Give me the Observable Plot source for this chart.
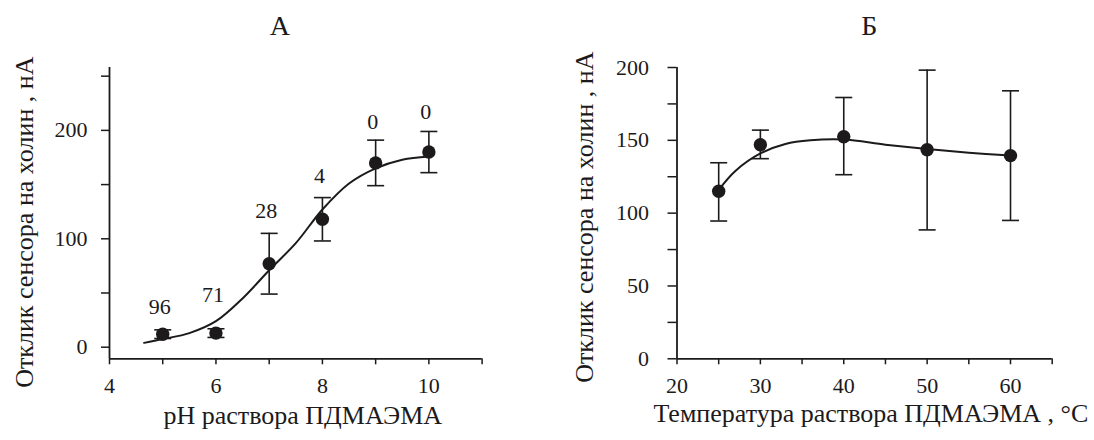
<!DOCTYPE html>
<html>
<head>
<meta charset="utf-8">
<script src="https://cdn.jsdelivr.net/npm/d3@7"></script>
<script src="https://cdn.jsdelivr.net/npm/@observablehq/plot@0.6"></script>
<style>
  body { margin: 0; background: #fff; }
  #row { display: flex; width: 1094px; height: 440px; }
  #row svg { display: block; }
  #row svg, #row svg text { font-family: "Liberation Serif", "Times New Roman", serif !important; }
</style>
</head>
<body>
<div id="row"></div>
<script>
// ---------- Panel А : pH ----------
const phValues    = [5, 6, 7, 8, 9, 10];
const phResponse  = [12, 13, 77, 118, 170, 180];
const phError     = [4, 4, 28, 20, 21, 19];
const phLabels    = ["96", "71", "28", "4", "0", "0"];
const phLabelY    = [37, 48, 126, 158, 208, 217];
const phFitX      = [4.65, 5, 5.5, 6, 6.5, 7, 7.5, 8, 8.5, 9, 9.5, 10];
const phFitY      = [4, 7.5, 13, 24, 45, 71, 96, 127, 151, 165, 173, 176];
const phTicksX    = [4, 5, 6, 7, 8, 9, 10, 11];
const phTickLabelsX = [4, 6, 8, 10];
const phTicksY    = [0, 50, 100, 150, 200, 250];
const phTickLabelsY = [0, 100, 200];
const titleA = "А";
const xLabelA = "pH раствора ПДМАЭМА";
const yLabel = "Отклик сенсора на холин , нА";

// ---------- Panel Б : temperature ----------
const tempValues   = [25, 30, 40, 50, 60];
const tempResponse = [115, 147, 152.5, 143.5, 139.5];
const tempLow      = [94.6, 137.4, 126.4, 88.5, 95];
const tempHigh     = [134.6, 157, 179.4, 198.2, 184];
const tempFitX     = [25, 27, 30, 33, 36, 40, 45, 50, 55, 60];
const tempFitY     = [116, 129, 141, 147.5, 150, 150.5, 147, 144, 141.5, 139.5];
const tempTicksX   = [20, 25, 30, 35, 40, 45, 50, 55, 60, 65];
const tempTickLabelsX = [20, 30, 40, 50, 60];
const tempTicksY   = [0, 25, 50, 75, 100, 125, 150, 175, 200];
const tempTickLabelsY = [0, 50, 100, 150, 200];
const titleB = "Б";
const xLabelB = "Температура раствора ПДМАЭМА , °C";

const ink = "#1c1a1b";
const font = "Liberation Serif";
const capSymbol = { draw(ctx) { ctx.moveTo(-8.5, 0); ctx.lineTo(8.5, 0); } };

// tables built from arrays
const phData = phValues.map((x, i) => ({
  x, y: phResponse[i], lo: phResponse[i] - phError[i], hi: phResponse[i] + phError[i],
  label: phLabels[i], ly: phLabelY[i]
}));
const phFit = phFitX.map((x, i) => ({ x, y: phFitY[i] }));
const tempData = tempValues.map((x, i) => ({ x, y: tempResponse[i], lo: tempLow[i], hi: tempHigh[i] }));
const tempFit = tempFitX.map((x, i) => ({ x, y: tempFitY[i] }));

const yMinA = -10.7;

const plotA = Plot.plot({
  width: 547, height: 440,
  marginLeft: 109, marginRight: 65.4, marginTop: 67, marginBottom: 81.7,
  style: { fontFamily: font, fontSize: "22px", color: ink, background: "#fff", overflow: "visible" },
  x: { domain: [4, 11] },
  y: { domain: [yMinA, 258] },
  marks: [
    Plot.axisX(phTicksX, { tickSize: 6, tickPadding: 13, strokeWidth: 1.5, fontSize: 22, fontFamily: font, label: null,
      tickFormat: d => phTickLabelsX.includes(d) ? String(d) : "" }),
    Plot.axisY(phTicksY, { tickSize: 8, tickPadding: 14, strokeWidth: 1.5, fontSize: 22, fontFamily: font, label: null,
      tickFormat: d => phTickLabelsY.includes(d) ? String(d) : "" }),
    Plot.ruleX([4], { stroke: ink, strokeWidth: 1.8 }),
    Plot.ruleY([yMinA], { stroke: ink, strokeWidth: 1.8 }),
    Plot.line(phFit, { x: "x", y: "y", curve: "catmull-rom", stroke: ink, strokeWidth: 2 }),
    Plot.ruleX(phData, { x: "x", y1: "lo", y2: "hi", stroke: ink, strokeWidth: 1.6 }),
    Plot.dot(phData, { x: "x", y: "hi", symbol: capSymbol, stroke: ink, strokeWidth: 1.6, fill: "none" }),
    Plot.dot(phData, { x: "x", y: "lo", symbol: capSymbol, stroke: ink, strokeWidth: 1.6, fill: "none" }),
    Plot.dot(phData, { x: "x", y: "y", r: 6.7, fill: ink, stroke: "none" }),
    Plot.text(phData, { x: "x", y: "ly", text: "label", fontSize: 22, fontFamily: font, fill: ink, lineAnchor: "middle", dx: -3 }),
    Plot.text([titleA], { frameAnchor: "top", textAnchor: "middle", dx: -16, dy: -41, fontSize: 28, fontFamily: font, fill: ink, lineAnchor: "middle" }),
    Plot.text([xLabelA], { frameAnchor: "bottom", textAnchor: "middle", dx: 7, dy: 56.4, fontSize: 26, fontFamily: font, fill: ink, lineAnchor: "middle" }),
    Plot.text([yLabel], { frameAnchor: "left", textAnchor: "middle", rotate: -90, dx: -85, dy: 9, fontSize: 26, fontFamily: font, fill: ink, lineAnchor: "middle" })
  ]
});

const plotB = Plot.plot({
  width: 547, height: 440,
  marginLeft: 129.5, marginRight: 42.3, marginTop: 67, marginBottom: 81.7,
  style: { fontFamily: font, fontSize: "22px", color: ink, background: "#fff", overflow: "visible" },
  x: { domain: [20, 65] },
  y: { domain: [0, 200] },
  marks: [
    Plot.axisX(tempTicksX, { tickSize: 6, tickPadding: 13, strokeWidth: 1.5, fontSize: 22, fontFamily: font, label: null,
      tickFormat: d => tempTickLabelsX.includes(d) ? String(d) : "" }),
    Plot.axisY(tempTicksY, { tickSize: 9, tickPadding: 19, strokeWidth: 1.5, fontSize: 22, fontFamily: font, label: null,
      tickFormat: d => tempTickLabelsY.includes(d) ? String(d) : "" }),
    Plot.ruleX([20], { stroke: ink, strokeWidth: 1.8 }),
    Plot.ruleY([0], { stroke: ink, strokeWidth: 1.8 }),
    Plot.line(tempFit, { x: "x", y: "y", curve: "catmull-rom", stroke: ink, strokeWidth: 2 }),
    Plot.ruleX(tempData, { x: "x", y1: "lo", y2: "hi", stroke: ink, strokeWidth: 1.6 }),
    Plot.dot(tempData, { x: "x", y: "hi", symbol: capSymbol, stroke: ink, strokeWidth: 1.6, fill: "none" }),
    Plot.dot(tempData, { x: "x", y: "lo", symbol: capSymbol, stroke: ink, strokeWidth: 1.6, fill: "none" }),
    Plot.dot(tempData, { x: "x", y: "y", r: 6.7, fill: ink, stroke: "none" }),
    Plot.text([titleB], { frameAnchor: "top", textAnchor: "middle", dx: 4.6, dy: -41, fontSize: 28, fontFamily: font, fill: ink, lineAnchor: "middle" }),
    Plot.text([xLabelB], { frameAnchor: "bottom", textAnchor: "middle", dx: 6.3, dy: 55, fontSize: 26, fontFamily: font, fill: ink, lineAnchor: "middle" }),
    Plot.text([yLabel], { frameAnchor: "left", textAnchor: "middle", rotate: -90, dx: -92.8, dy: 4, fontSize: 26, fontFamily: font, fill: ink, lineAnchor: "middle" })
  ]
});

const row = document.getElementById("row");
row.appendChild(plotA);
row.appendChild(plotB);
</script>
</body>
</html>
